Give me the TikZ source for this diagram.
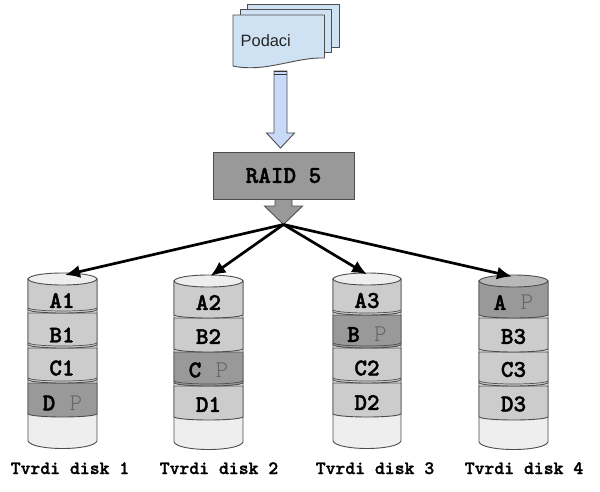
\documentclass[tikz,border=0pt]{standalone}
\usepackage{fontspec}
\setmainfont{Liberation Sans}
\newfontfamily\cmono{Latin Modern Mono Light}[BoldFeatures={FakeBold=1.6}]
\definecolor{stk}{HTML}{4D4D4D}
\definecolor{docblue}{HTML}{CFE2F3}
\definecolor{arrblue}{HTML}{C9DAF8}
\definecolor{raidgray}{HTML}{999999}
\definecolor{bandlight}{HTML}{CCCCCC}
\definecolor{banddark}{HTML}{999999}
\definecolor{capgray}{HTML}{EEEEEE}
\definecolor{parity}{HTML}{666666}
\tikzset{
  page/.style={draw=stk,line width=0.9pt,fill=docblue,line join=round},
  blockstroke/.style={draw=stk,line width=0.9pt,line join=miter},
  bandstroke/.style={draw=stk,line width=0.9pt},
  disklabel/.style={inner sep=0pt,font=\cmono\bfseries\fontsize{18.8}{20}\selectfont,text=black},
  bandlabel/.style={inner sep=0pt,font=\cmono\bfseries\fontsize{24}{26}\selectfont,text=black},
  feed/.style={line width=2.7pt,draw=black,-{Latex[length=15pt,width=13pt]},shorten >=0pt},
}
\usetikzlibrary{arrows.meta}
% \dband{xl}{xr}{top}{bottom}{colour}
\newcommand{\dband}[5]{%
  \path[bandstroke,fill=#5] (#1,#3) -- (#1,#4-3)
    .. controls (#1+6,#4+1) and (#2-6,#4+1) .. (#2,#4-3) -- (#2,#3) -- cycle;}
% \dline{xl}{xr}{bottom}: the second thin line above a separator
\newcommand{\dline}[3]{%
  \draw[draw=stk,line width=0.7pt] (#1,#3-5) .. controls (#1+6,#3-1) and (#2-6,#3-1) .. (#2,#3-5);}
% \dcap{xl}{xr}{centre}{colour}
\newcommand{\dcap}[4]{%
  \path[bandstroke,fill=#4] (#1,#3) .. controls (#1+3,#3-8) and (#2-3,#3-8) .. (#2,#3)
    .. controls (#2-3,#3+8) and (#1+3,#3+8) .. (#1,#3) -- cycle;}
% \dbody{xl}{xr}{top}{bottom edge}
\newcommand{\dbody}[4]{%
  \path[bandstroke,fill=capgray] (#1,#3) -- (#1,#4-8)
    .. controls (#1+4,#4+2) and (#2-4,#4+2) .. (#2,#4-8) -- (#2,#3) -- cycle;}
\begin{document}
\begin{tikzpicture}[x=1pt,y=-1pt]
\useasboundingbox (0,0) rectangle (600,492);
\fill[white] (0,0) rectangle (600,492);
% document stack
\path[page] (247,4) rectangle (339,47);
\path[page] (240,9) rectangle (331.5,52);
\path[page] (233,15) -- (324.5,15) -- (324.5,58)
  .. controls (295,57) and (265,73) .. (233,66) -- cycle;
\node[inner sep=0pt,anchor=base west,font=\fontsize{16.4}{18}\selectfont,text=black!85] (docs) at (240.5,46.5) {Podaci};
% block arrow into RAID
\path[blockstroke,fill=arrblue] (274,71) -- (287,71) -- (287,133) -- (294.5,133)
  -- (280.5,148) -- (266.5,133) -- (274,133) -- cycle;
\draw[line width=1pt,black!80] (274,71.2) -- (287,71.2);
\draw[line width=1pt,black!80] (274,74.5) -- (287,74.5);
% RAID box and its down arrow
\path[blockstroke,fill=raidgray] (275,195) -- (292,195) -- (292,206) -- (302.5,206)
  -- (283.5,224.5) -- (264.5,206) -- (275,206) -- cycle;
\node[draw=stk,line width=0.9pt,fill=raidgray,minimum width=141pt,minimum height=47pt,inner sep=0pt,
  font=\cmono\bfseries\fontsize{24}{26}\selectfont] (raid) at (283.5,175.5) {RAID 5};
% disk 1
\dbody{28}{97}{279}{449}
\dband{28}{97}{383}{417}{banddark}
\dband{28}{97}{348}{383}{bandlight}\dline{28}{97}{383}
\dband{28}{97}{313}{348}{bandlight}\dline{28}{97}{348}
\dband{28}{97}{279}{313}{bandlight}\dline{28}{97}{313}
\dcap{28}{97}{279}{capgray}
% disk 2
\dbody{174}{243}{281}{450}
\dband{174}{243}{386}{420}{bandlight}
\dband{174}{243}{352}{386}{banddark}\dline{174}{243}{386}
\dband{174}{243}{318}{352}{bandlight}
\dband{174}{243}{281}{318}{bandlight}
\dcap{174}{243}{281}{capgray}
% disk 3
\dbody{333}{401}{279}{449}
\dband{333}{401}{383}{417}{bandlight}
\dband{333}{401}{348}{383}{bandlight}\dline{333}{401}{383}
\dband{333}{401}{315}{348}{banddark}\dline{333}{401}{348}
\dband{333}{401}{279}{315}{bandlight}\dline{333}{401}{315}
\dcap{333}{401}{279}{capgray}
% disk 4
\dbody{479}{548}{281}{450}
\dband{479}{548}{386}{420}{bandlight}
\dband{479}{548}{352}{386}{bandlight}\dline{479}{548}{386}
\dband{479}{548}{318}{352}{bandlight}
\dband{479}{548}{281}{318}{banddark}
\dcap{479}{548}{281}{bandlight!90!black}
% band labels
\newcommand{\parlabel}[1]{#1\hspace{14.4pt}{\mdseries\textcolor{parity}{P}}}
\node[bandlabel] (a1) at (62,300.5) {A1};
\node[bandlabel] (b1) at (62,335) {B1};
\node[bandlabel] (c1) at (62,368) {C1};
\node[bandlabel] (d1) at (62.5,403) {\parlabel{D}};
\node[bandlabel] (a2) at (208.5,302.5) {A2};
\node[bandlabel] (b2) at (208.5,336.5) {B2};
\node[bandlabel] (c2) at (208.5,370) {\parlabel{C}};
\node[bandlabel] (d2) at (208.5,404.5) {D1};
\node[bandlabel] (a3) at (367,300.5) {A3};
\node[bandlabel] (b3) at (367,334.5) {\parlabel{B}};
\node[bandlabel] (c3) at (367,368) {C2};
\node[bandlabel] (d3) at (367,402.5) {D2};
\node[bandlabel] (a4) at (513.5,302.5) {\parlabel{A}};
\node[bandlabel] (b4) at (513.5,336.5) {B3};
\node[bandlabel] (c4) at (513.5,369.5) {C3};
\node[bandlabel] (d4) at (513.5,404) {D3};
% disk names
\node[disklabel,anchor=base] (n1) at (70,474) {Tvrdi disk 1};
\node[disklabel,anchor=base] (n2) at (219,474) {Tvrdi disk 2};
\node[disklabel,anchor=base] (n3) at (375,474) {Tvrdi disk 3};
\node[disklabel,anchor=base] (n4) at (524,474) {Tvrdi disk 4};
% connectors
\coordinate (hub) at (283.5,224.5);
\coordinate (t1) at (65,275);
\coordinate (t2) at (210.5,276);
\coordinate (t3) at (367,274.5);
\coordinate (t4) at (512,276.5);
\draw[feed] (hub) -- (t1);
\draw[feed] (hub) -- (t2);
\draw[feed] (hub) -- (t3);
\draw[feed] (hub) -- (t4);
\end{tikzpicture}
\end{document}
